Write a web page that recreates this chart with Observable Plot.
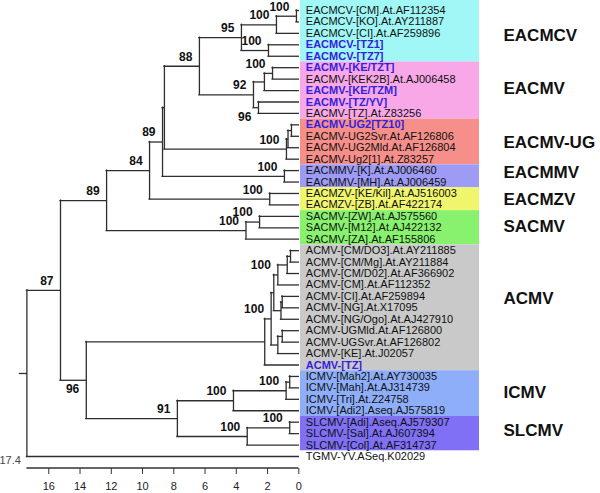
<!DOCTYPE html>
<html><head><meta charset="utf-8">
<script src="https://cdn.jsdelivr.net/npm/d3@7"></script>
<script src="https://cdn.jsdelivr.net/npm/@observablehq/plot@0.6"></script>
<style>body{margin:0;background:#fff}</style>
</head><body><div id="chart"></div>
<script>
// ---------- DATA ----------
const leaves = [
  "EACMCV-[CM].At.AF112354","EACMCV-[KO].At.AY211887","EACMCV-[CI].At.AF259896","EACMCV-[TZ1]","EACMCV-[TZ7]",
  "EACMV-[KE/TZT]","EACMV-[KEK2B].At.AJ006458","EACMV-[KE/TZM]","EACMV-[TZ/YV]","EACMV-[TZ].At.Z83256",
  "EACMV-UG2[TZ10]","EACMV-UG2Svr.At.AF126806","EACMV-UG2Mld.At.AF126804","EACMV-Ug2[1].At.Z83257",
  "EACMMV-[K].At.AJ006460","EACMMV-[MH].At.AJ006459",
  "EACMZV-[KE/Kil].At.AJ516003","EACMZV-[ZB].At.AF422174",
  "SACMV-[ZW].At.AJ575560","SACMV-[M12].At.AJ422132","SACMV-[ZA].At.AF155806",
  "ACMV-[CM/DO3].At.AY211885","ACMV-[CM/Mg].At.AY211884","ACMV-[CM/D02].At.AF366902","ACMV-[CM].At.AF112352",
  "ACMV-[CI].At.AF259894","ACMV-[NG].At.X17095","ACMV-[NG/Ogo].At.AJ427910","ACMV-UGMld.At.AF126800",
  "ACMV-UGSvr.At.AF126802","ACMV-[KE].At.J02057","ACMV-[TZ]",
  "ICMV-[Mah2].At.AY730035","ICMV-[Mah].At.AJ314739","ICMV-[Tri].At.Z24758","ICMV-[Adi2].Aseq.AJ575819",
  "SLCMV-[Adi].Aseq.AJ579307","SLCMV-[Sal].At.AJ607394","SLCMV-[Col].At.AF314737",
  "TGMV-YV.ASeq.K02029"
];
const blueLeaves = ["EACMCV-[TZ1]","EACMCV-[TZ7]","EACMV-[KE/TZT]","EACMV-[KE/TZM]","EACMV-[TZ/YV]","EACMV-UG2[TZ10]","ACMV-[TZ]"];

const groups      = ["EACMCV","EACMV","EACMV-UG","EACMMV","EACMZV","SACMV","ACMV","ICMV","SLCMV"];
const groupFirst  = [0, 5, 10, 14, 16, 18, 21, 32, 36];
const groupLast   = [4, 9, 13, 15, 17, 20, 31, 35, 38];
const groupColors = ["#a0f7f6","#f8a7e7","#f68f8a","#9d9bf5","#eff56c","#88f26e","#c9c9c9","#8eaefa","#7f70f6"];
const groupLabelRow = [2.23, 6.86, 11.54, 14.17, 16.52, 18.93, 25.15, 33.39, 36.7];

// topology: [nodeName, child, child]; integers are leaf indices
const topology =
["root",
  ["E",
    ["D",
      ["C",
        ["B",
          ["A",
            ["N88",
              ["N95", ["N123", ["N12", 0, 1], 2], ["N45", 3, 4]],
              ["N92", ["N678", ["N67", 5, 6], 7], ["N910", 8, 9]]],
            ["UG", ["UG3", ["UG2", 10, 11], 12], 13]],
          ["EACMMV", 14, 15]],
        ["EACMZV", 16, 17]],
      ["SACMV", ["S2", 18, 19], 20]],
    ["N96",
      ["ACMV",
        ["AC6",
          ["AC5", ["AC4", ["AC3", ["AC2", 21, 22], 23], 24], ["AC28", ["AC27", 25, 26], 27]],
          ["AC31", ["AC30", 28, 29], 30]],
        31],
      ["N91", ["ICMV", ["IC3", ["IC2", 32, 33], 34], 35], ["SLCMV", ["SL2", 36, 37], 38]]]],
  39];

const nodeNames   = ["root","E","D","C","B","A","N88","N95","N123","N12","N45","N92","N678","N67","N910",
                     "UG","UG3","UG2","EACMMV","EACMZV","SACMV","S2","N96","ACMV","AC6","AC5","AC4","AC3","AC2",
                     "AC28","AC27","AC31","AC30","N91","ICMV","IC3","IC2","SLCMV","SL2"];
const nodeHeights = [17.4, 15.25, 12.3, 9.55, 8.72, 8.6, 6.36, 3.67, 1.43, 0.15, 1.94, 2.9, 2.2, 1.68, 2.58,
                     0.79, 0.69, 0.47, 0.92, 1.86, 3.38, 2.51, 13.6, 2.18, 1.77, 1.60, 1.34, 0.74, 0.53,
                     1.14, 1.06, 1.34, 1.06, 7.77, 4.18, 0.81, 0.58, 3.30, 0.58];
const nodeSupport = ["", "87","89","84","89","", "88","95","100","100","100","92","", "100","96",
                     "100","","", "100","100","100","100","96","", "100","", "100","","",
                     "","","","", "91","100","100","","100","100"];
const supportBelow = ["N910","N96"];

const xTicks = [16, 14, 12, 10, 8, 6, 4, 2, 0];
const rootLabel = "17.4";

// ---------- LAYOUT ----------
const X_RANGE = [26.4, 298.3];
const xs = Plot.scale({x: {domain: [17.4, 0], range: X_RANGE}});
const stub = xs.invert(X_RANGE[0] - 7) - 17.4;

const hOf = new Map(nodeNames.map((n, i) => [n, nodeHeights[i]]));
const supOf = new Map(nodeNames.map((n, i) => [n, nodeSupport[i]]));
const hBranches = [], vBranches = [], labelsAbove = [], labelsBelow = [];
function layout(node, parentH) {
  if (typeof node === "number") { hBranches.push({y: node, x1: parentH, x2: 0}); return node; }
  const [name, ...kids] = node;
  const h = hOf.get(name);
  const ys = kids.map(k => layout(k, h));
  const y = (ys[0] + ys[ys.length - 1]) / 2;
  vBranches.push({x: h, y1: ys[0], y2: ys[ys.length - 1]});
  hBranches.push({y, x1: parentH, x2: h});
  const s = supOf.get(name);
  if (s) (supportBelow.includes(name) ? labelsBelow : labelsAbove).push({x: h, y, text: s});
  return y;
}
layout(topology, 17.4 + stub);

const leafData = leaves.map((name, i) => ({name, i, blue: blueLeaves.includes(name)}));
const bandX1 = xs.invert(300), bandX2 = xs.invert(479), labelX = xs.invert(503);
const groupData = groups.map((g, i) => ({
  g, color: groupColors[i],
  y1: i === 0 ? -0.9 : groupFirst[i] - 0.5, y2: groupLast[i] + 0.5, ly: groupLabelRow[i]
}));

const FONT = "'Liberation Sans', Arial, Helvetica, sans-serif";
const lineStyle = {stroke: "#2e2e2e", strokeWidth: 1.3, strokeLinecap: "square"};

const chart = Plot.plot({
  width: 600, height: 493,
  marginTop: 0, marginBottom: 25, marginLeft: 0, marginRight: 0,
  style: {fontFamily: FONT, fontSize: "11px", background: "#fff", color: "#222"},
  x: {domain: [17.4, 0], range: X_RANGE, label: null},
  y: {domain: [0, 39], range: [10, 456], axis: null},
  color: {type: "identity"},
  marks: [
    Plot.rect(groupData, {x1: bandX1, x2: bandX2, y1: "y1", y2: "y2", fill: "color"}),
    Plot.ruleY(hBranches, {y: "y", x1: "x1", x2: "x2", ...lineStyle}),
    Plot.ruleX(vBranches, {x: "x", y1: "y1", y2: "y2", ...lineStyle}),
    Plot.text(leafData.filter(d => !d.blue), {x: 0, y: "i", text: "name", textAnchor: "start", dx: 7, fill: "#111", fontSize: 11}),
    Plot.text(leafData.filter(d => d.blue), {x: 0, y: "i", text: "name", textAnchor: "start", dx: 7, fill: "#3322dd", fontSize: 11, fontWeight: "bold"}),
    Plot.text(labelsAbove, {x: "x", y: "y", text: "text", textAnchor: "end", dx: -7, dy: -9.5, fontSize: 12, fontWeight: "bold", fill: "#111"}),
    Plot.text(labelsBelow, {x: "x", y: "y", text: "text", textAnchor: "end", dx: -7, dy: 9, fontSize: 12, fontWeight: "bold", fill: "#111"}),
    Plot.text(groupData, {x: labelX, y: "ly", text: "g", textAnchor: "start", fontSize: 17, fontWeight: "bold", fill: "#111"}),
    Plot.axisX({ticks: xTicks, anchor: "bottom", tickSize: 6, tickPadding: 8, fontSize: 11, label: null, stroke: "#333", fill: "#222"}),
    Plot.text([rootLabel], {x: 17.4, frameAnchor: "bottom", text: d => d, textAnchor: "end", dx: -6, dy: -4.5, fontSize: 11, fill: "#444"})
  ]
});

// axis baseline
const sx = chart.scale("x");
d3.select(chart).append("line")
  .attr("x1", sx.apply(17.4)).attr("x2", sx.apply(0))
  .attr("y1", 468).attr("y2", 468)
  .attr("stroke", "#333").attr("stroke-width", 1.3);

document.getElementById("chart").appendChild(chart);
</script>
</body></html>
